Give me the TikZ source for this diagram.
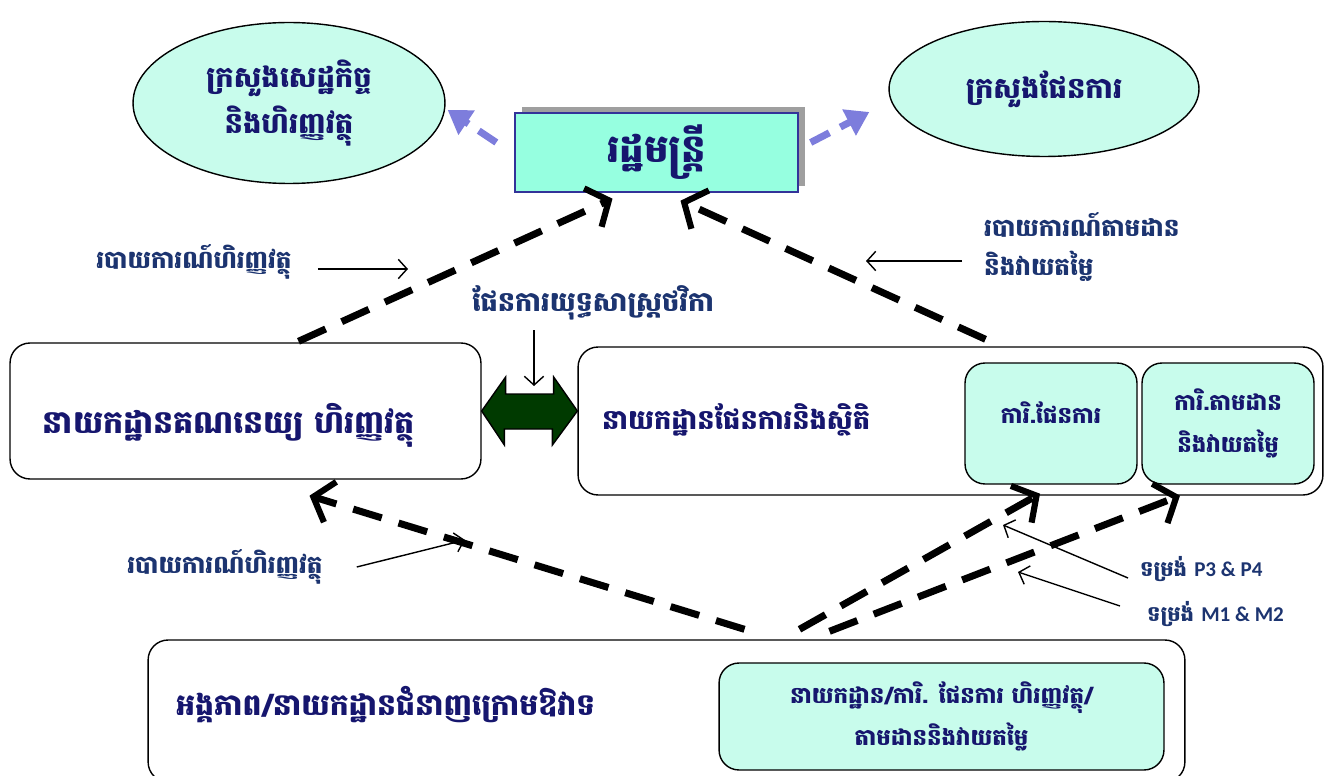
\documentclass[tikz,border=0pt]{standalone}
\usepackage{fontspec}
\usepackage{xcolor}
\usetikzlibrary{shapes.geometric,arrows.meta,calc,shadows}
\newfontfamily\khmer[Script=Khmer]{Battambang}
\newfontfamily\latinsans{Carlito}
\definecolor{khnavy}{RGB}{22,22,110}
\definecolor{lblblue}{RGB}{28,52,112}
\definecolor{cyanfill}{RGB}{200,252,236}
\definecolor{aquafill}{RGB}{150,255,224}
\definecolor{minborder}{RGB}{51,51,153}
\definecolor{arrowpurple}{RGB}{125,125,220}
\definecolor{linkgreen}{RGB}{0,58,0}
\begin{document}
\begin{tikzpicture}[x=0.02cm,y=-0.02cm]
        \tikzset{ministry/.style={ellipse,draw,thick,fill=cyanfill,inner sep=0pt,
                text=khnavy,align=center,font=\khmer\bfseries\fontsize{16.5}{26}\selectfont},
            deptbox/.style={draw,thick,rounded corners=0.4cm,fill=white,inner sep=0pt},
            officebox/.style={draw,thick,rounded corners=0.4cm,fill=cyanfill,inner sep=0pt,
                text=khnavy,align=center,font=\khmer\bfseries\fontsize{13}{24}\selectfont},
            depttext/.style={text=khnavy,font=\khmer\bfseries\fontsize{17}{24}\selectfont},
            note/.style={text=lblblue,align=left,font=\khmer\bfseries\fontsize{14}{22}\selectfont},
            formnote/.style={text=lblblue,font=\khmer\bfseries\fontsize{12}{16}\selectfont},
            report/.style={draw,line width=4pt,dash pattern=on 17pt off 10pt,
                -{Straight Barb[length=10pt,width=24pt,line width=3.5pt]}},
            upward/.style={draw=arrowpurple,line width=4pt,dash pattern=on 12pt off 7pt,
                -{Triangle[length=13pt,width=16pt]}},
            pointer/.style={draw,line width=0.8pt,-{Straight Barb[length=5pt,width=11pt]}}}
        \useasboundingbox (0,0) rectangle (1327,776);
        % top level
        \node[ministry,minimum width=6.24cm,minimum height=3.22cm] (mef) at (289,103)
            {ក្រសួងសេដ្ឋកិច្ច\\និងហិរញ្ញវត្ថុ};
        \node[ministry,minimum width=6.2cm,minimum height=2.7cm] (mop) at (1044,89)
            {ក្រសួងផែនការ};
        \node[draw=minborder,thick,fill=aquafill,minimum width=5.66cm,minimum height=1.58cm,
            drop shadow={shadow xshift=0.14cm,shadow yshift=0.12cm,fill=gray!75,opacity=1},
            text=khnavy,font=\khmer\bfseries\fontsize{22}{26}\selectfont] (minister) at (656.5,152.5)
            {រដ្ឋមន្ត្រី};
        % departments
        \node[deptbox,minimum width=9.42cm,minimum height=2.72cm] (acct) at (245.5,411) {};
        \node[depttext,font=\khmer\bfseries\fontsize{18}{24}\selectfont] (accttxt) at (229,425)
            {នាយកដ្ឋានគណនេយ្យ ហិរញ្ញវត្ថុ};
        \node[deptbox,minimum width=14.9cm,minimum height=2.96cm] (plan) at (950.5,421) {};
        \node[depttext,anchor=west,font=\khmer\bfseries\fontsize{15.5}{24}\selectfont] (plantxt)
            at (596,420) {នាយកដ្ឋានផែនការនិងស្ថិតិ};
        \node[officebox,minimum width=3.44cm,minimum height=2.42cm] (offplan) at (1051,423.5)
            {\raisebox{0.44cm}{ការិ.ផែនការ}};
        \node[officebox,minimum width=3.44cm,minimum height=2.42cm] (offme) at (1228,423.5)
            {ការិ.តាមដាន\\និងវាយតម្លៃ};
        % units
        \node[deptbox,minimum width=20.74cm,minimum height=2.84cm] (units) at (666.5,711) {};
        \node[depttext,anchor=west] (unitstxt) at (170,705) {អង្គភាព/នាយកដ្ឋានជំនាញក្រោមឱវាទ};
        \node[officebox,minimum width=8.9cm,minimum height=2.14cm] (unitoff) at (941.5,716.5)
            {នាយកដ្ឋាន/ការិ. ផែនការ ហិរញ្ញវត្ថុ/\\តាមដាននិងវាយតម្លៃ};
        % link between departments
        \filldraw[fill=linkgreen,thick] (acct.east) -- ++(24,-34) -- ++(0,17) -- ++(48,0)
            -- ++(0,-17) -- (plan.west |- acct.east) -- ++(-25,34) -- ++(0,-16) -- ++(-48,0)
            -- ++(0,16) -- cycle;
        % notes
        \node[note] (finrep1) at (194,262) {របាយការណ៍ហិរញ្ញវត្ថុ};
        \node[note,anchor=west] (merep) at (978,247) {របាយការណ៍តាមដាន\\និងវាយតម្លៃ};
        \node[note,font=\khmer\bfseries\fontsize{15.5}{22}\selectfont] (bsp) at (593,303)
            {ផែនការយុទ្ធសាស្ត្រថវិកា};
        \node[note] (finrep2) at (225,567) {របាយការណ៍ហិរញ្ញវត្ថុ};
        \node[formnote,anchor=west] (formP) at (1134,569) {ទម្រង់ {\latinsans\bfseries P3 \& P4}};
        \node[formnote,anchor=west] (formM) at (1141,614) {ទម្រង់ {\latinsans\bfseries M1 \& M2}};
        \coordinate (finrep1tip) at (408,269);
        \coordinate (mereptip) at (866,261);
        \coordinate (bsptip) at (534,386);
        \coordinate (finrep2tip) at (465,540);
        \coordinate (formPtip) at (1003,525);
        \coordinate (formMtip) at (1018,572);
        % reports
        \draw[report] ($(acct.north)+(53,-1)$) -- ($(minister.south)+(-44,6)$);
        \draw[report] ($(plan.north)+(35,-7)$) -- ($(minister.south)+(24,8)$);
        \draw[report] ($(units.north)+(78,-10)$) -- ($(acct.south)+(64,16)$);
        \draw[report] ($(units.north)+(133,-10)$) -- ($(offplan.south)+(-11,9)$);
        \draw[report] ($(units.north)+(163,-8)$) -- ($(offme.south)+(-48,11)$);
        \draw[upward] ($(minister.west)+(-18,-10)$) -- ($(mef.east)+(2,7)$);
        \draw[upward] ($(minister.east)+(12,-10)$) -- ($(mop.west)+(-19,23)$);
        \draw[pointer] ($(finrep1.east)+(20,7)$) -- (finrep1tip);
        \draw[pointer] ($(merep.west)+(-16,14)$) -- (mereptip);
        \draw[pointer] ($(bsp.south)+(-59,4)$) -- (bsptip);
        \draw[pointer] ($(finrep2.east)+(28,0)$) -- (finrep2tip);
        \draw[pointer] ($(formP.west)+(-6,9)$) -- (formPtip);
        \draw[pointer] ($(formM.west)+(-21,-8)$) -- (formMtip);
\end{tikzpicture}
\end{document}
